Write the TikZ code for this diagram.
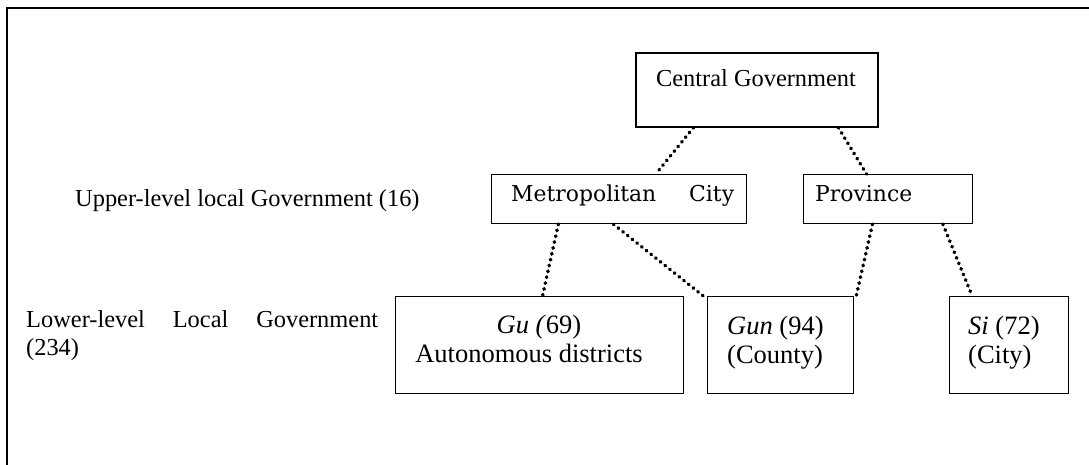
\documentclass[tikz,border=0pt]{standalone}
\usepackage{fontspec}
\setmainfont{Liberation Serif}
\newfontfamily\wideserif{DejaVu Serif}
\usetikzlibrary{calc}
\newcommand\lowfont{\fontsize{26.5}{29}\selectfont}
\newcommand\labfont{\fontsize{24.4}{28}\selectfont}
\newcommand\midfont{\wideserif\fontsize{21.9}{26}\selectfont}
\tikzset{
  unitbox/.style={draw=black, line width=1.2pt, rectangle, inner sep=0pt, anchor=north west},
  txt/.style={inner sep=0pt, anchor=base west, text=black},
  link/.style={draw=black, line width=3.6pt, line cap=round, dash pattern=on 0.6pt off 5.4pt},
}
\begin{document}
\begin{tikzpicture}[x=1pt, y=-1pt]
  \useasboundingbox (0,0) rectangle (1089,465);
  % open frame: left and top edges only
  \draw[line width=2pt] (7,465) -- (7,8.5) -- (1089,8.5);

  % boxes
  \node[unitbox, line width=1.6pt, minimum width=242pt, minimum height=74pt] (cg) at (635,52) {};
  \node[unitbox, minimum width=255pt, minimum height=49pt] (metro) at (491,174) {};
  \node[unitbox, minimum width=169pt, minimum height=49pt] (prov) at (803,174) {};
  \node[unitbox, minimum width=288pt, minimum height=97pt] (gu) at (395,296) {};
  \node[unitbox, minimum width=146pt, minimum height=97pt] (gun) at (707,296) {};
  \node[unitbox, minimum width=119pt, minimum height=97pt] (si) at (949,296) {};

  % texts
  \node[txt, anchor=base] (cg-t) at (756,87) {\labfont Central Government};
  \node[txt] (metro-t) at (511,201) {\midfont Metropolitan\hspace{33pt}City};
  \node[txt] (prov-t) at (815,201) {\midfont Province};
  \node[txt, anchor=base] (gu-t) at (539,333)
    {\parbox[t]{288pt}{\lowfont\centering \textit{Gu (}69)\\Autonomous districts\hspace*{20pt}}};
  \node[txt] (gun-t) at (727,334)
    {\parbox[t]{140pt}{\lowfont \textit{Gun} (94)\\(County)}};
  \node[txt] (si-t) at (968,334)
    {\parbox[t]{110pt}{\lowfont \textit{Si} (72)\\(City)}};

  % level labels
  \node[txt] (upper) at (75,207) {\labfont Upper-level local Government (16)};
  \node[txt] (lower) at (26,327)
    {\parbox[t]{352pt}{\labfont Lower-level\hfill Local\hfill Government\\(234)}};

  % dotted links
  \draw[link] ($(cg.south west)!0.24!(cg.south east)$) -- ($(metro.north west)!0.643!(metro.north east)$);
  \draw[link] ($(cg.south west)!0.835!(cg.south east)$) -- ($(prov.north west)!0.373!(prov.north east)$);
  \draw[link] ($(metro.south west)!0.263!(metro.south east)$) -- ($(gu.north west)!0.51!(gu.north east)$);
  \draw[link] ($(metro.south west)!0.478!(metro.south east)$) -- ($(gun.north west)+(0,3)$);
  \draw[link] ($(prov.south west)!0.408!(prov.south east)$) -- ($(gun.north east)+(2,0)$);
  \draw[link] ($(prov.south west)!0.822!(prov.south east)$) -- ($(si.north west)!0.193!(si.north east)$);
\end{tikzpicture}
\end{document}
